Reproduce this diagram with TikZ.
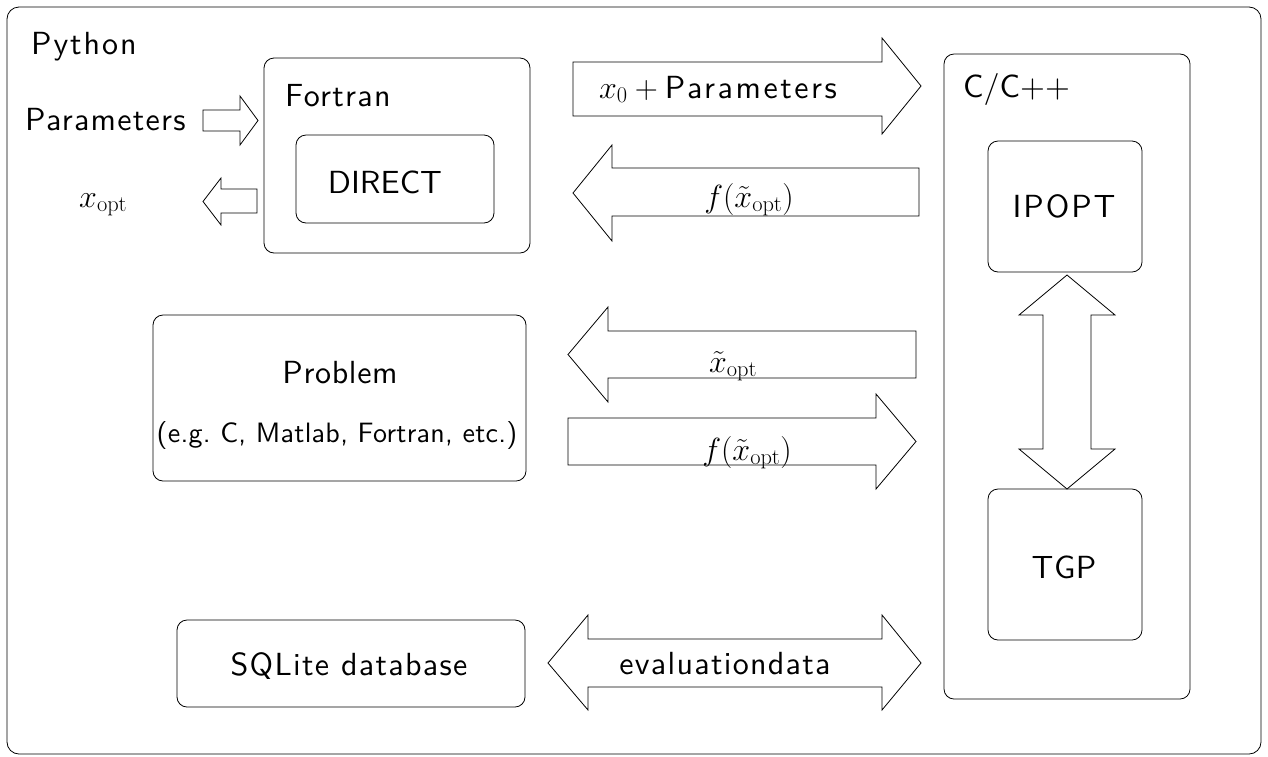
\RequirePackage{fix-cm}
\documentclass[tikz,border=0pt]{standalone}
\usepackage{fontspec}
\newfontfamily\lsone{lmsans10-regular.otf}[LetterSpace=1]
\newfontfamily\lstwo{lmsans10-regular.otf}[LetterSpace=2]
\newfontfamily\lsfour{lmsans10-regular.otf}[LetterSpace=4]
\newfontfamily\lssix{lmsans10-regular.otf}[LetterSpace=6]
\newfontfamily\lseight{lmsans10-regular.otf}[LetterSpace=8]
\newfontfamily\plainsans{lmsans10-regular.otf}
\begin{document}
\begin{tikzpicture}[x=1pt,y=-1pt,
  box/.style={draw, rounded corners=10pt, line width=0.8pt, inner sep=0pt},
  blk/.style={draw, line width=0.8pt, line join=miter},
  txt/.style={inner sep=0pt, font=\fontsize{32}{38}\selectfont},
  mlbl/.style={inner sep=0pt, font=\fontsize{32}{38}\selectfont}]
\useasboundingbox (0,0) rectangle (1268,756);

% outer Python frame
\node[box, rounded corners=12pt, minimum width=1254pt, minimum height=747pt] (python) at (634,380.5) {};
\node[txt, anchor=base west] (pythonlbl) at (31,54) {\lssix Python};

% Fortran / DIRECT
\node[box, minimum width=266pt, minimum height=195pt] (fortran) at (397,155.5) {};
\node[txt, anchor=base west] (fortranlbl) at (285,106) {\lsfour Fortran};
\node[box, minimum width=198pt, minimum height=88pt] (direct) at (395,179) {};
\node[txt, anchor=base] (directlbl) at (385,193) {\plainsans DIRECT};

% Parameters in
\node[txt, anchor=base west] (paramlbl) at (25,130) {\lsfour Parameters};
\draw[blk] (203,110) -- (240,110) -- (240,96) -- (258,120.5) -- (240,145) -- (240,131) -- (203,131) -- cycle;

% x_opt out
\node[mlbl, anchor=base west] (xoptlbl) at (79,207) {$x_{\mathrm{opt}}$};
\draw[blk] (257,189) -- (221,189) -- (221,178) -- (203,201.5) -- (221,225) -- (221,213) -- (257,213) -- cycle;

% C/C++
\node[box, minimum width=246pt, minimum height=645pt] (cpp) at (1067,376.5) {};
\node[txt, anchor=base west] (cpplbl) at (963,97) {\plainsans C/C++};
\node[box, minimum width=154pt, minimum height=131pt] (ipopt) at (1065,206.5) {};
\node[txt, anchor=base] (ipoptlbl) at (1064,217) {\lssix IPOPT};
\node[box, minimum width=154pt, minimum height=151pt] (tgp) at (1065,564.5) {};
\node[txt, anchor=base] (tgplbl) at (1064,578) {\lstwo TGP};

% IPOPT <-> TGP
\draw[blk] (1067,275) -- (1115,315) -- (1091,315) -- (1091,449) -- (1115,449) -- (1067,489)
  -- (1019,449) -- (1043,449) -- (1043,315) -- (1019,315) -- cycle;

% x0 + Parameters
\draw[blk] (573,62) -- (882,62) -- (882,38) -- (921,86) -- (882,134) -- (882,116) -- (573,116) -- cycle;
\node[mlbl, anchor=base] (x0lbl) at (718,98) {$x_0+\hbox{\lseight Parameters}$};

% f(x~opt) top
\draw[blk] (919,168) -- (612,168) -- (612,145) -- (573,193) -- (612,241) -- (612,216) -- (919,216) -- cycle;
\node[mlbl, anchor=base] (ftoplbl) at (749,207) {$f(\tilde{x}_{\mathrm{opt}})$};

% Problem
\node[box, minimum width=373pt, minimum height=166pt] (problem) at (339.5,398) {};
\node[txt, anchor=base] (problemlbl) at (340,383) {\lstwo Problem};
\node[txt, anchor=base, font=\fontsize{28}{34}\selectfont] (problemsub) at (337,442) {\lsone (e.g.\ C, Matlab, Fortran, etc.)};

% x~opt
\draw[blk] (916,331) -- (608,331) -- (608,307) -- (568,354.5) -- (608,402) -- (608,378) -- (916,378) -- cycle;
\node[mlbl, anchor=base] (xtlbl) at (733,372) {$\tilde{x}_{\mathrm{opt}}$};

% f(x~opt) bottom
\draw[blk] (568,418) -- (876,418) -- (876,394) -- (916,441.5) -- (876,489) -- (876,465) -- (568,465) -- cycle;
\node[mlbl, anchor=base] (fbotlbl) at (747,460) {$f(\tilde{x}_{\mathrm{opt}})$};

% SQLite
\node[box, minimum width=348pt, minimum height=87pt] (sqlite) at (351,663.5) {};
\node[txt, anchor=base] (sqlitelbl) at (349,675) {\lsfour SQLite database};

% evaluation data
\draw[blk] (548,663) -- (588,615) -- (588,639) -- (882,639) -- (882,615) -- (921,663)
  -- (882,710) -- (882,687) -- (588,687) -- (588,710) -- cycle;
\node[txt, anchor=base] (evallbl) at (725,674) {\lsfour evaluationdata};
\end{tikzpicture}
\end{document}
